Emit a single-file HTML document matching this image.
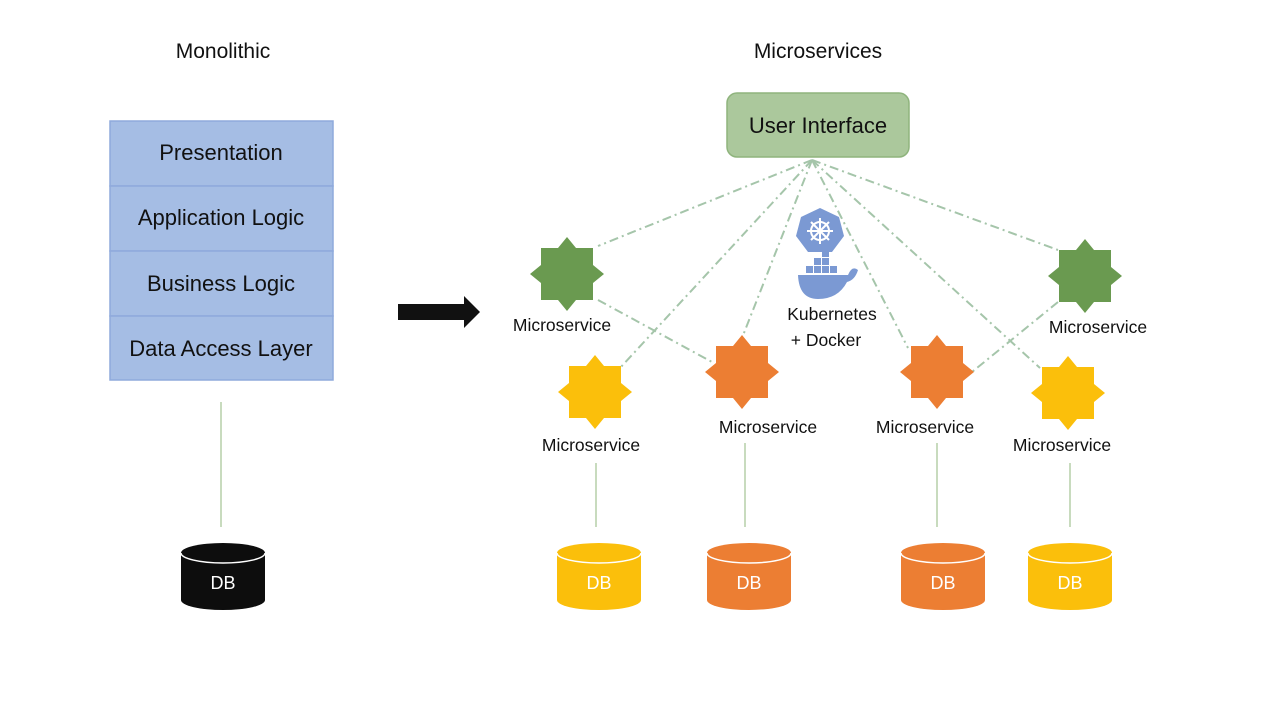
<!DOCTYPE html>
<html><head><meta charset="utf-8"><style>
html,body{margin:0;padding:0;background:#fff;}
svg{display:block;font-family:"Liberation Sans",sans-serif;}
</style></head><body>
<svg width="1280" height="720" viewBox="0 0 1280 720" xmlns="http://www.w3.org/2000/svg">
<defs>
<g id="star"><polygon points="0,-37 9,-26 26,-26 26,-9 37,0 26,9 26,26 9,26 0,37 -9,26 -26,26 -26,9 -37,0 -26,-9 -26,-26 -9,-26"/></g>
</defs>
<text x="223" y="58" font-size="21" text-anchor="middle" fill="#111">Monolithic</text>
<text x="818" y="58" font-size="21" text-anchor="middle" fill="#111">Microservices</text>

<g stroke="#8faadc" stroke-width="1.5" fill="#a5bde4">
<rect x="110" y="121" width="223" height="65"/>
<rect x="110" y="186" width="223" height="65"/>
<rect x="110" y="251" width="223" height="65"/>
<rect x="110" y="316" width="223" height="64"/>
</g>
<g font-size="22" text-anchor="middle" fill="#111">
<text x="221" y="160">Presentation</text>
<text x="221" y="225">Application Logic</text>
<text x="221" y="291">Business Logic</text>
<text x="221" y="356">Data Access Layer</text>
</g>
<line x1="221" y1="402" x2="221" y2="527" stroke="#b5cfa8" stroke-width="1.5"/>

<polygon points="398,304 464,304 464,296 480,312 464,328 464,320 398,320" fill="#111"/>

<rect x="727" y="93" width="182" height="64" rx="10" fill="#abc89c" stroke="#8fb47d" stroke-width="1.5"/>
<text x="818" y="133" font-size="22" text-anchor="middle" fill="#111">User Interface</text>

<g stroke="#a5c5aa" stroke-width="2" stroke-dasharray="9,4,2,4" fill="none">
<line x1="812" y1="160" x2="598" y2="246"/>
<line x1="812" y1="160" x2="620" y2="368"/>
<line x1="812" y1="160" x2="742" y2="338"/>
<line x1="812" y1="160" x2="908" y2="348"/>
<line x1="812" y1="160" x2="1040" y2="368"/>
<line x1="812" y1="160" x2="1058" y2="250"/>
<line x1="598" y1="300" x2="712" y2="362"/>
<line x1="1058" y1="302" x2="972" y2="372"/>
</g>

<g fill="#6a9a50"><use href="#star" x="567" y="274"/><use href="#star" x="1085" y="276"/></g>
<g fill="#fbbf0b"><use href="#star" x="595" y="392"/><use href="#star" x="1068" y="393"/></g>
<g fill="#ec7e33"><use href="#star" x="742" y="372"/><use href="#star" x="937" y="372"/></g>

<g font-size="17.5" text-anchor="middle" fill="#111">
<text x="562" y="331">Microservice</text>
<text x="1098" y="333">Microservice</text>
<text x="591" y="451">Microservice</text>
<text x="768" y="433">Microservice</text>
<text x="925" y="433">Microservice</text>
<text x="1062" y="451">Microservice</text>
<text x="832" y="320">Kubernetes</text>
<text x="826" y="346">+ Docker</text>
</g>

<polygon points="820,208 839,217 844,236 832,252 808,252 796,236 801,217" fill="#7b99d3"/>
<g stroke="#fff" stroke-width="2" fill="none"><circle cx="820" cy="231" r="9"/>
<line x1="820" y1="218" x2="820" y2="244"/><line x1="807" y1="231" x2="833" y2="231"/>
<line x1="811" y1="222" x2="829" y2="240"/><line x1="829" y1="222" x2="811" y2="240"/></g>
<path d="M798,275 L848,275 Q852,265 858,270 Q855,280 847,282 Q838,299 818,299 Q799,299 798,275 Z" fill="#7b99d3"/>
<g fill="#7b99d3"><rect x="806" y="266" width="7" height="7"/><rect x="814" y="266" width="7" height="7"/><rect x="822" y="266" width="7" height="7"/><rect x="830" y="266" width="7" height="7"/><rect x="814" y="258" width="7" height="7"/><rect x="822" y="258" width="7" height="7"/><rect x="822" y="250" width="7" height="7"/></g>

<g stroke="#b5cfa8" stroke-width="1.5">
<line x1="596" y1="463" x2="596" y2="527"/>
<line x1="745" y1="443" x2="745" y2="527"/>
<line x1="937" y1="443" x2="937" y2="527"/>
<line x1="1070" y1="463" x2="1070" y2="527"/>
</g>

<g>
<path d="M181,553 A42,10 0 0 1 265,553 L265,600 A42,10 0 0 1 181,600 Z" fill="#0d0d0d"/>
<path d="M181,553 A42,10 0 0 0 265,553" stroke="#fff" stroke-width="1.5" fill="none"/>
<path d="M557,553 A42,10 0 0 1 641,553 L641,600 A42,10 0 0 1 557,600 Z" fill="#fbbf0b"/>
<path d="M557,553 A42,10 0 0 0 641,553" stroke="#fff" stroke-width="1.5" fill="none"/>
<path d="M707,553 A42,10 0 0 1 791,553 L791,600 A42,10 0 0 1 707,600 Z" fill="#ec7e33"/>
<path d="M707,553 A42,10 0 0 0 791,553" stroke="#fff" stroke-width="1.5" fill="none"/>
<path d="M901,553 A42,10 0 0 1 985,553 L985,600 A42,10 0 0 1 901,600 Z" fill="#ec7e33"/>
<path d="M901,553 A42,10 0 0 0 985,553" stroke="#fff" stroke-width="1.5" fill="none"/>
<path d="M1028,553 A42,10 0 0 1 1112,553 L1112,600 A42,10 0 0 1 1028,600 Z" fill="#fbbf0b"/>
<path d="M1028,553 A42,10 0 0 0 1112,553" stroke="#fff" stroke-width="1.5" fill="none"/>
</g>
<g font-size="18" text-anchor="middle" fill="#fff">
<text x="223" y="589">DB</text><text x="599" y="589">DB</text><text x="749" y="589">DB</text><text x="943" y="589">DB</text><text x="1070" y="589">DB</text>
</g>
</svg>
</body></html>
